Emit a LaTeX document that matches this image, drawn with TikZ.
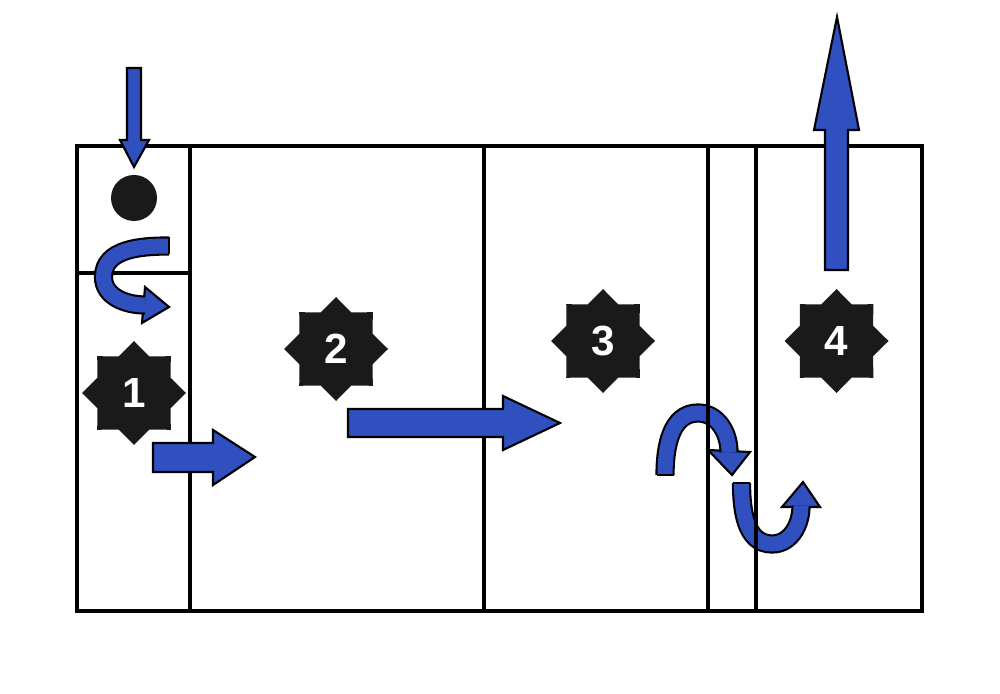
\documentclass[tikz,border=0pt]{standalone}
\usepackage{fontspec}
\usepackage{tikz}
\usetikzlibrary{shapes.geometric}
\newfontfamily\badgefont{Liberation Sans}
\definecolor{flowblue}{HTML}{3050C0}
\definecolor{badgeblack}{HTML}{1A1A1A}
\tikzset{
  every picture/.style={line join=miter},
  wall/.style={line width=0.9pt},
  block/.style={fill=flowblue,draw=black,line width=0.6pt},
  band/.style={draw=black,line width=0.6pt,double=flowblue,double distance=0.15cm},
  badge/.style={star,star points=8,star point ratio=1.31,fill=badgeblack,minimum size=1.04cm,inner sep=0pt,text=white,font=\badgefont\bfseries\fontsize{12}{14}\selectfont},
}

\begin{document}
\begin{tikzpicture}
\useasboundingbox (0,0) rectangle (10,-6.94);
\draw[block](7.080,-4.500)--(7.500,-4.520)--(7.320,-4.750)--cycle;
\draw[band](6.650,-4.750) to[out=90,in=180] (6.980,-4.130) to[out=0,in=90] (7.290,-4.520);
\draw[line width=0.6pt](6.565,-4.750)--(6.735,-4.750);
\draw[block](7.820,-5.070)--(8.200,-5.070)--(8.030,-4.820)--cycle;
\draw[band](7.415,-4.830) to[out=-90,in=180] (7.720,-5.440) to[out=0,in=-90] (8.010,-5.060);
\draw[line width=0.6pt](7.330,-4.830)--(7.500,-4.830);
\draw[wall](0.770,-1.460) rectangle (9.220,-6.110);
\draw[wall](1.900,-1.460)--(1.900,-6.110);
\draw[wall](4.840,-1.460)--(4.840,-6.110);
\draw[wall](7.080,-1.460)--(7.080,-6.110);
\draw[wall](7.560,-1.460)--(7.560,-6.110);
\draw[wall](0.770,-2.730)--(1.900,-2.730);
\draw[block](1.270,-0.680)--(1.410,-0.680)--(1.410,-1.400)--(1.490,-1.400)--(1.340,-1.670)--(1.200,-1.400)--(1.270,-1.400)--cycle;
\fill[badgeblack](1.340,-1.980) circle(0.23);
\draw[block](1.450,-2.870)--(1.690,-3.070)--(1.420,-3.230)--cycle;
\draw[band](1.690,-2.460) to[out=180,in=90] (1.035,-2.770) to[out=-90,in=180] (1.450,-3.050);
\draw[line width=0.6pt](1.690,-2.375)--(1.690,-2.545);
\draw[block](1.530,-4.430)--(2.130,-4.430)--(2.130,-4.300)--(2.550,-4.570)--(2.130,-4.850)--(2.130,-4.720)--(1.530,-4.720)--cycle;
\draw[block](3.480,-4.090)--(5.030,-4.090)--(5.030,-3.960)--(5.600,-4.230)--(5.030,-4.500)--(5.030,-4.370)--(3.480,-4.370)--cycle;
\draw[block](8.250,-2.700)--(8.480,-2.700)--(8.480,-1.300)--(8.590,-1.300)--(8.370,-0.170)--(8.140,-1.300)--(8.250,-1.300)--cycle;
\node[badge] (s1) at (1.340,-3.930) {1};
\node[badge] (s2) at (3.360,-3.490) {2};
\node[badge] (s3) at (6.030,-3.410) {3};
\node[badge] (s4) at (8.365,-3.410) {4};
\end{tikzpicture}
\end{document}
